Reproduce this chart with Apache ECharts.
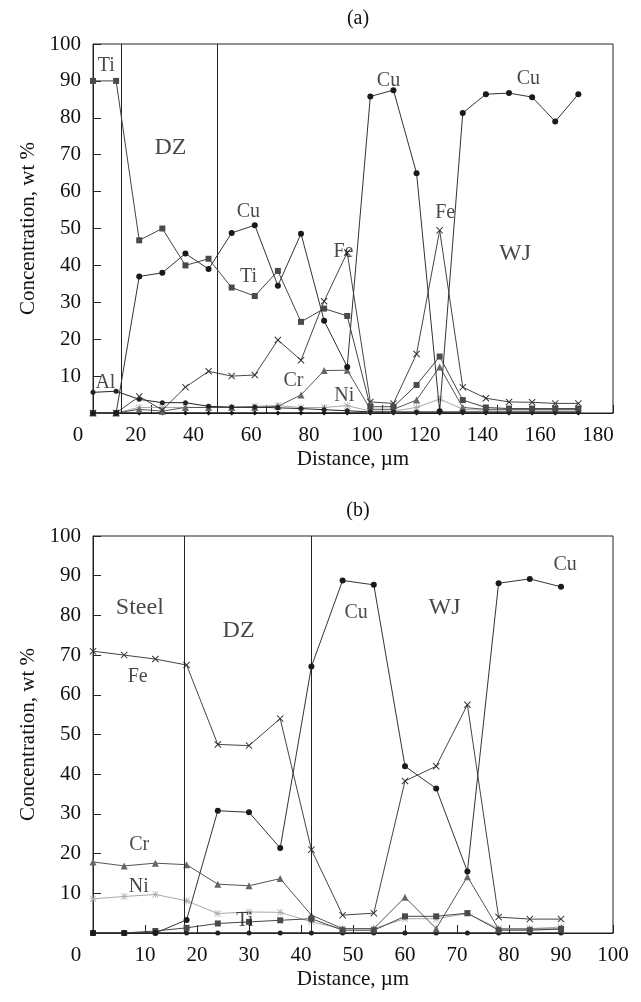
<!DOCTYPE html>
<html>
<head>
<meta charset="utf-8">
<script src="https://cdn.jsdelivr.net/npm/echarts@6/dist/echarts.min.js"></script>
<style>
  html, body { margin: 0; background: #fff; }
  #chart { width: 641px; height: 1002px; }
</style>
</head>
<body>
<div id="chart"></div>
<script>
// panel (a): Ti / Cu joint, distance in µm
const distA = [0, 8, 16, 24, 32, 40, 48, 56, 64, 72, 80, 88, 96, 104, 112, 120, 128, 136, 144, 152, 160, 168];
const tiA = [90, 90, 46.8, 50, 40, 41.8, 34, 31.7, 38.5, 24.7, 28.3, 26.3, 1.7, 1.7, 7.6, 15.3, 3.5, 1.5, 1.2, 1.2, 1.2, 1.2];
const cuA = [0, 0, 37, 38, 43.2, 39, 48.8, 50.9, 34.5, 48.6, 25, 12.5, 85.8, 87.5, 65, 0.5, 81.3, 86.4, 86.7, 85.6, 79, 86.4];
const feA = [0, 0, 4.5, 0.8, 7, 11.3, 10, 10.3, 19.8, 14.3, 30.3, 43.5, 3, 2.6, 16, 49.5, 7, 4, 3, 2.9, 2.6, 2.6];
const crA = [0, 0, 1, 0.5, 1.5, 1.5, 1.5, 1.5, 1.8, 4.9, 11.5, 11.6, 1, 1, 3.5, 12.5, 1.5, 1, 1, 1, 1, 1];
const niA = [0, 0, 1.5, 1.5, 1.5, 1.5, 1.5, 1.8, 2, 1.5, 1.5, 2, 0.5, 0.5, 1.5, 3.8, 1, 0.8, 0.8, 0.8, 0.8, 0.8];
const alA = [5.6, 5.9, 3.7, 2.8, 2.8, 1.8, 1.6, 1.6, 1.4, 1.2, 0.9, 0.6, 0.3, 0.3, 0.3, 0.3, 0.3, 0.3, 0.3, 0.3, 0.3, 0.3];
const baseA = distA.map(() => 0);
const edgesA = [9.7, 42.9];

// panel (b): steel / Cu joint
const distB = [0, 6, 12, 18, 24, 30, 36, 42, 48, 54, 60, 66, 72, 78, 84, 90];
const feB = [71, 70, 69, 67.5, 47.5, 47.2, 54, 21, 4.5, 5, 38.3, 42, 57.5, 4, 3.5, 3.5];
const cuB = [0, 0, 0, 3.3, 30.8, 30.4, 21.4, 67.1, 88.8, 87.7, 42, 36.4, 15.5, 88.1, 89.2, 87.2];
const crB = [17.9, 16.9, 17.6, 17.2, 12.3, 11.9, 13.7, 4.5, 1.1, 1.1, 9, 1.1, 14.2, 1, 1, 1];
const niB = [8.6, 9.2, 9.7, 8.1, 4.9, 5.3, 5.2, 2.8, 1.1, 1.1, 3.6, 3.6, 4.9, 1.1, 1.1, 1.5];
const tiB = [0, 0, 0.5, 1.3, 2.4, 2.8, 3.2, 3.6, 0.7, 0.7, 4.2, 4.2, 5, 0.7, 0.7, 1];
const alB = distB.map(() => 0);
const edgesB = [17.6, 41.9];

// text placed on the plots, in data units
const zonesA = [["DZ", 26.8, 71.9], ["WJ", 146.1, 43.3]];
const tagsA = [["Ti", 4.6, 94.2], ["Cu", 53.8, 54.6], ["Ti", 53.8, 36.9], ["Al", 4.3, 8.3], ["Cr", 69.4, 8.7], ["Ni", 87, 4.6], ["Fe", 86.7, 43.7], ["Cu", 102.3, 90.1], ["Fe", 121.9, 54.4], ["Cu", 150.7, 90.5]];
const zonesB = [["Steel", 9, 82], ["DZ", 28, 76.2], ["WJ", 67.6, 82]];
const tagsB = [["Fe", 8.6, 64.6], ["Cr", 8.9, 22.2], ["Ni", 8.8, 11.7], ["Ti", 29.2, 3.2], ["Cu", 50.6, 80.7], ["Cu", 90.8, 92.7]];

const FONT = "Liberation Serif";
const xMark = "path://M0,1L1,0L5,4L9,0L10,1L6,5L10,9L9,10L5,6L1,10L0,9L4,5Z";
const starMark = "path://M4.5,0L5.5,0L5.5,10L4.5,10ZM0,4.5L10,4.5L10,5.5L0,5.5ZM1,0.3L9.7,9L9,9.7L0.3,1ZM9,0.3L9.7,1L1,9.7L0.3,9Z";

const styles = {
  Ni: { symbol: starMark, size: 7, mark: "#a8a8a8", line: "#a8a8a8", z: 2 },
  Cr: { symbol: "triangle", size: 7, mark: "#666", line: "#555", z: 3 },
  Al: { symbol: "circle", size: 5, mark: "#222", line: "#222", z: 3 },
  base: { symbol: "diamond", size: 5, mark: "#111", line: "#111", z: 3 },
  Fe: { symbol: xMark, size: 7, mark: "#333", line: "#444", z: 4 },
  Ti: { symbol: "rect", size: 6, mark: "#4a4a4a", line: "#444", z: 5 },
  Cu: { symbol: "circle", size: 6, mark: "#1a1a1a", line: "#333", z: 6 },
};

function line(name, xs, ys, gi) {
  const s = styles[name];
  return {
    name: name,
    type: "line",
    xAxisIndex: gi,
    yAxisIndex: gi,
    data: xs.map((x, i) => [x, ys[i]]),
    symbol: s.symbol,
    symbolSize: s.size,
    showSymbol: true,
    z: s.z,
    itemStyle: { color: s.mark },
    lineStyle: { color: s.line, width: 1 },
    animation: false,
  };
}

function edges(list, gi) {
  return {
    type: "line",
    xAxisIndex: gi,
    yAxisIndex: gi,
    data: [],
    markLine: {
      silent: true,
      symbol: "none",
      label: { show: false },
      lineStyle: { color: "#222", width: 1, type: "solid" },
      data: list.map((x) => ({ xAxis: x })),
      animation: false,
    },
  };
}

function notes(list, gi, size) {
  return {
    type: "scatter",
    xAxisIndex: gi,
    yAxisIndex: gi,
    symbolSize: 0,
    z: 10,
    silent: true,
    data: list.map((n) => [n[1], n[2], n[0]]),
    label: {
      show: true,
      position: "inside",
      formatter: (p) => p.data[2],
      fontFamily: FONT,
      fontSize: size,
      color: "#1a1a1a",
    },
    animation: false,
  };
}

function yAxis(gi) {
  return {
    type: "value",
    gridIndex: gi,
    min: 0,
    max: 100,
    interval: 10,
    name: "Concentration, wt %",
    nameLocation: "middle",
    nameGap: 52,
    nameTextStyle: { fontFamily: FONT, fontSize: 21, color: "#111" },
    axisLine: { show: true, lineStyle: { color: "#222" } },
    axisTick: { inside: true, length: 8, lineStyle: { color: "#222" } },
    axisLabel: { fontFamily: FONT, fontSize: 21, color: "#111", margin: 12, formatter: (v) => (v === 0 ? "" : String(v)) },
    splitLine: { show: false },
  };
}

const xBase = {
  type: "value",
  min: 0,
  name: "Distance, µm",
  nameLocation: "middle",
  nameGap: 36,
  nameTextStyle: { fontFamily: FONT, fontSize: 21, color: "#111" },
  axisLine: { show: true, lineStyle: { color: "#222" } },
  axisTick: { inside: true, length: 8, lineStyle: { color: "#222" } },
  splitLine: { show: false },
};

const chart = echarts.init(document.getElementById("chart"));
chart.setOption({
  backgroundColor: "#fff",
  animation: false,
  title: [
    { text: "(a)", left: 353, top: 4, textAlign: "center", textStyle: { fontFamily: FONT, fontSize: 20, fontWeight: "normal", color: "#111" } },
    { text: "(b)", left: 353, top: 496, textAlign: "center", textStyle: { fontFamily: FONT, fontSize: 20, fontWeight: "normal", color: "#111" } },
  ],
  grid: [
    { left: 93, right: 28, top: 44, height: 369, show: true, borderColor: "#222", borderWidth: 1, backgroundColor: "transparent" },
    { left: 93, right: 28, top: 536, height: 397, show: true, borderColor: "#222", borderWidth: 1, backgroundColor: "transparent" },
  ],
  xAxis: [
    Object.assign({}, xBase, {
      gridIndex: 0,
      max: 180,
      interval: 20,
      axisLabel: {
        margin: 12,
        formatter: (v) => "{s|" + v + "}",
        rich: { s: { fontFamily: FONT, fontSize: 21, color: "#111", padding: [0, 30, 0, 0] } },
      },
    }),
    Object.assign({}, xBase, {
      gridIndex: 1,
      max: 100,
      interval: 10,
      axisLabel: {
        margin: 12,
        fontFamily: FONT,
        fontSize: 21,
        color: "#111",
        formatter: (v) => (v === 0 ? "{z|0}" : String(v)),
        rich: { z: { fontFamily: FONT, fontSize: 21, color: "#111", padding: [0, 34, 0, 0] } },
      },
    }),
  ],
  yAxis: [yAxis(0), yAxis(1)],
  series: [
    edges(edgesA, 0),
    line("base", distA, baseA, 0),
    line("Ni", distA, niA, 0),
    line("Cr", distA, crA, 0),
    line("Al", distA, alA, 0),
    line("Fe", distA, feA, 0),
    line("Ti", distA, tiA, 0),
    line("Cu", distA, cuA, 0),
    notes(zonesA, 0, 24),
    notes(tagsA, 0, 20),
    edges(edgesB, 1),
    line("Al", distB, alB, 1),
    line("Ni", distB, niB, 1),
    line("Ti", distB, tiB, 1),
    line("Cr", distB, crB, 1),
    line("Fe", distB, feB, 1),
    line("Cu", distB, cuB, 1),
    notes(zonesB, 1, 24),
    notes(tagsB, 1, 20),
  ],
});
</script>
</body>
</html>
